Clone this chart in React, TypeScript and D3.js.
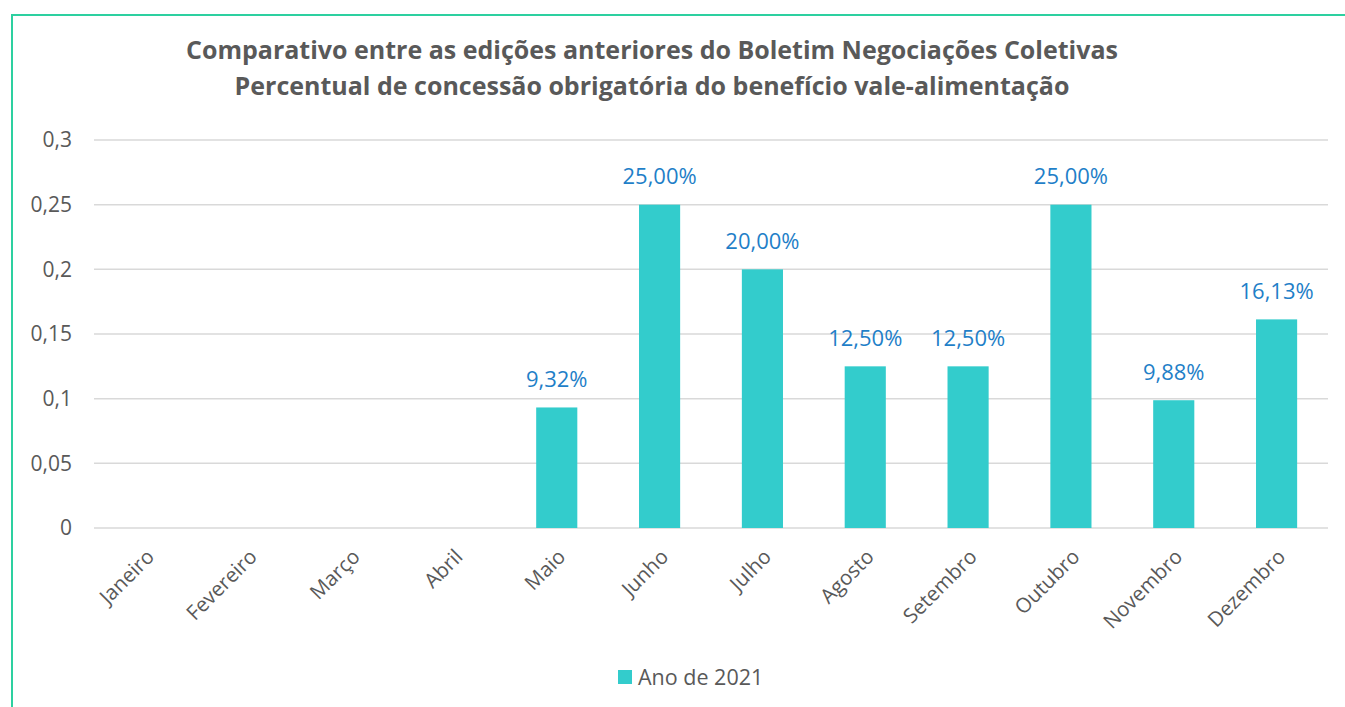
import { useEffect, useRef } from 'react';
import * as d3 from 'd3';

const months = ['Janeiro', 'Fevereiro', 'Março', 'Abril', 'Maio', 'Junho', 'Julho', 'Agosto', 'Setembro', 'Outubro', 'Novembro', 'Dezembro'];
const values: (number | null)[] = [null, null, null, null, 0.0932, 0.25, 0.2, 0.125, 0.125, 0.25, 0.0988, 0.1613];
const yTicks = [0, 0.05, 0.1, 0.15, 0.2, 0.25, 0.3];
const titleLines = [
  'Comparativo entre as edições anteriores do Boletim Negociações Coletivas',
  'Percentual de concessão obrigatória do benefício vale-alimentação',
];
const seriesName = 'Ano de 2021';

export default function App() {
  const svgRef = useRef<SVGSVGElement>(null);
  const width = 1345;
  const height = 707;
  const margin = { top: 140, right: 17, bottom: 179, left: 94 };

  useEffect(() => {
    if (!svgRef.current) return;
    const svg = d3.select(svgRef.current);
    svg.selectAll('*').remove();

    const font = '"Open Sans", "Noto Sans", sans-serif';
    const grey = '#595959';

    svg.append('rect').attr('width', width).attr('height', height).attr('fill', '#fff');

    // frame (top + left border)
    svg.append('path')
      .attr('d', `M12,${height} L12,15 L${width},15`)
      .attr('fill', 'none')
      .attr('stroke', '#2dd0a0')
      .attr('stroke-width', 2);

    const x = d3.scaleBand<string>()
      .domain(months)
      .range([margin.left, width - margin.right])
      .paddingInner(0.6)
      .paddingOuter(0.3);
    const y = d3.scaleLinear()
      .domain([0, 0.3])
      .range([height - margin.bottom, margin.top]);

    // title
    titleLines.forEach((line, i) => {
      svg.append('text')
        .attr('x', 652)
        .attr('y', 50 + i * 36)
        .attr('dy', '0.35em')
        .attr('text-anchor', 'middle')
        .attr('font-family', font)
        .attr('font-weight', 'bold')
        .attr('font-size', 25)
        .attr('fill', grey)
        .text(line);
    });

    // grid
    svg.append('g')
      .selectAll('line')
      .data(yTicks)
      .join('line')
      .attr('x1', margin.left)
      .attr('x2', width - margin.right)
      .attr('y1', d => y(d))
      .attr('y2', d => y(d))
      .attr('stroke', '#d9d9d9')
      .attr('stroke-width', 1.5);

    // y labels
    svg.append('g')
      .selectAll('text')
      .data(yTicks)
      .join('text')
      .attr('x', 72)
      .attr('y', d => y(d))
      .attr('dy', '0.35em')
      .attr('text-anchor', 'end')
      .attr('font-family', font)
      .attr('font-size', 21)
      .attr('fill', grey)
      .text(d => d3.format('~g')(d).replace('.', ','));

    // bars
    const data = months.map((m, i) => ({ m, v: values[i] })).filter(d => d.v != null) as { m: string; v: number }[];
    svg.append('g')
      .selectAll('rect')
      .data(data)
      .join('rect')
      .attr('x', d => x(d.m)!)
      .attr('width', x.bandwidth())
      .attr('y', d => y(d.v))
      .attr('height', d => y(0) - y(d.v))
      .attr('fill', '#33cccc');

    // value labels
    svg.append('g')
      .selectAll('text')
      .data(data)
      .join('text')
      .attr('x', d => x(d.m)! + x.bandwidth() / 2)
      .attr('y', d => y(d.v) - 28)
      .attr('dy', '0.35em')
      .attr('text-anchor', 'middle')
      .attr('font-family', font)
      .attr('font-size', 22)
      .attr('fill', '#1f7fc8')
      .text(d => (d.v * 100).toFixed(2).replace('.', ',') + '%');

    // x labels
    svg.append('g')
      .selectAll('text')
      .data(months)
      .join('text')
      .attr('transform', d => `translate(${x(d)! + x.bandwidth() / 2 + 5},${y(0) + 25}) rotate(-45)`)
      .attr('dy', '0.35em')
      .attr('text-anchor', 'end')
      .attr('font-family', font)
      .attr('font-size', 20.5)
      .attr('fill', grey)
      .text(d => d);

    // legend
    const lg = svg.append('g').attr('transform', 'translate(618,677)');
    lg.append('rect').attr('x', 0).attr('y', -7).attr('width', 14).attr('height', 14).attr('fill', '#33cccc');
    lg.append('text')
      .attr('x', 20)
      .attr('dy', '0.35em')
      .attr('font-family', font)
      .attr('font-size', 21.5)
      .attr('fill', grey)
      .text(seriesName);
  }, []);

  return (
    <svg
      ref={svgRef}
      width={width}
      height={height}
      viewBox={`0 0 ${width} ${height}`}
      style={{ position: 'absolute', top: 0, left: 0, display: 'block' }}
    />
  );
}
